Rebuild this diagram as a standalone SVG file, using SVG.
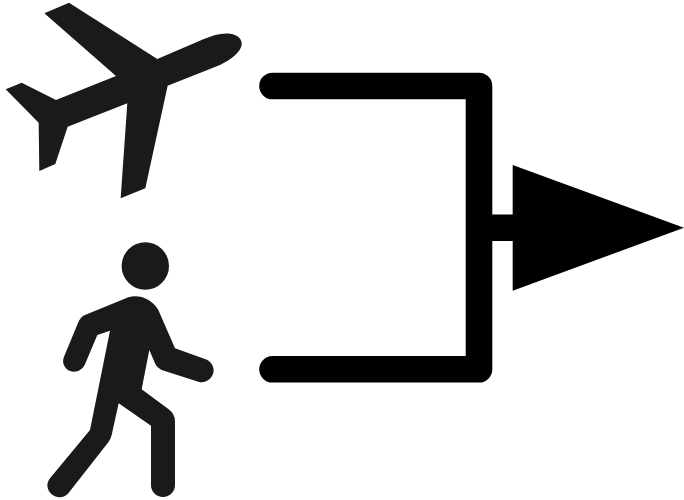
<svg xmlns="http://www.w3.org/2000/svg" width="684" height="500" viewBox="0 0 684 500">
<style>
.icon{fill:#1a1a1a}
.line{fill:none;stroke:#000;stroke-width:26.6;stroke-linecap:round;stroke-linejoin:round}
.stub{fill:none;stroke:#000;stroke-width:26.6}
.head{fill:#000}
</style>
<rect width="684" height="500" fill="#fff"/>
<g id="plane">
<path class="icon" transform="scale(.3333)" d="M133 40L207 8L472 177L610 118C640 105 665 98 690 101C715 104 727 118 725 135C722 155 695 178 660 195L503 257L436 565L362 595L382 310L203 380L166 492L118 513L116 368L17 268L65 248L168 300L348 228Z"/>
</g>
<g id="person">
<circle class="icon" cx="145.3" cy="266" r="23.7"/>
<path class="icon" transform="translate(40 235) scale(.3333)" d="M135 240L265 187C295 177 335 190 355 225L405 340L495 372C512 378 522 392 521 408C519 430 497 447 475 440L365 405Q350 398 345 385L328 345L305 463L385 522Q405 535 405 560L405 750C405 770 389 786 369 786C349 786 333 770 333 750L333 572L236 505L215 600Q212 612 205 622L85 775C72 790 50 790 35 778C20 765 18 745 30 730L150 585L210 287L172 300L135 388C128 405 108 415 90 408C72 400 65 382 72 365L115 262Q122 245 135 240Z"/>
</g>
<g id="connectors">
<path class="line" d="M272.5 86H479V369.3H272.5"/>
<path class="stub" d="M466 227.7H520"/>
<polygon class="head" points="512.7,165 684,227.7 512.7,290.7"/>
</g>
</svg>
